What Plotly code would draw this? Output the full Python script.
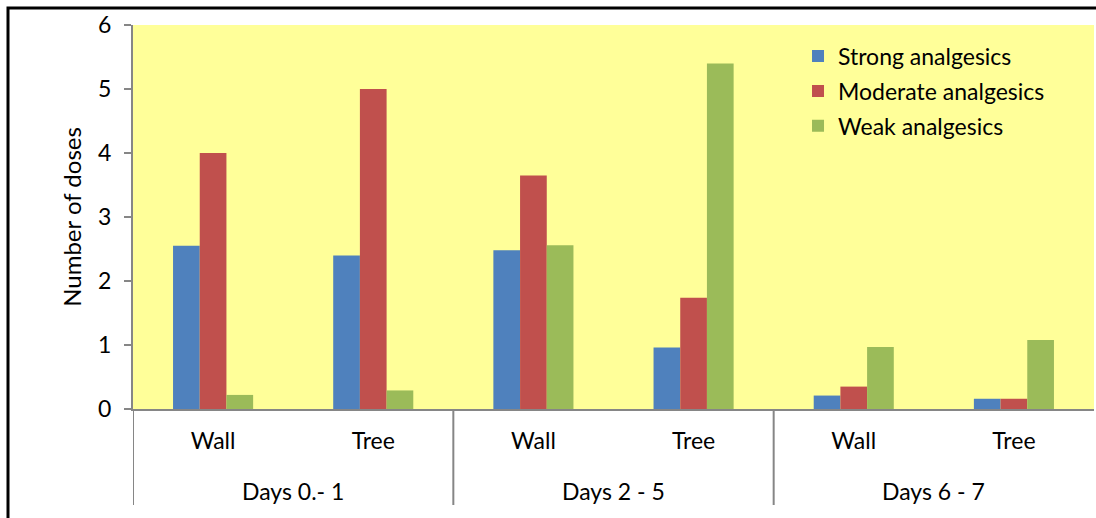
import plotly.graph_objects as go

# Period / location categories
periods = ["Days 0.- 1", "Days 2 - 5", "Days 6 - 7"]
locations = ["Wall", "Tree", "Wall", "Tree", "Wall", "Tree"]
cat_keys = ["Days 0.- 1 | Wall", "Days 0.- 1 | Tree",
            "Days 2 - 5 | Wall", "Days 2 - 5 | Tree",
            "Days 6 - 7 | Wall", "Days 6 - 7 | Tree"]

# Number of doses per analgesic class
strong = [2.55, 2.40, 2.48, 0.96, 0.21, 0.16]
moderate = [4.00, 5.00, 3.65, 1.74, 0.35, 0.16]
weak = [0.22, 0.29, 2.56, 5.40, 0.97, 1.08]

y_ticks = [0, 1, 2, 3, 4, 5, 6]

series = [
    ("Strong analgesics", strong, "#4F81BD"),
    ("Moderate analgesics", moderate, "#C0504D"),
    ("Weak analgesics", weak, "#9BBB59"),
]

FONT = "Lato"
FS = 23
AXIS_GRAY = "#868686"
W, H = 1096, 518
ML, MR, MT, MB = 133, 2, 25, 109

fig = go.Figure()
for name, vals, color in series:
    fig.add_trace(go.Bar(
        name=name,
        x=cat_keys,
        y=vals,
        marker=dict(color=color, line=dict(width=0)),
        legendgroup=name,
    ))

fig.update_layout(
    width=W,
    height=H,
    margin=dict(l=ML, r=MR, t=MT, b=MB),
    barmode="group",
    bargap=0.5,
    bargroupgap=0,
    paper_bgcolor="white",
    plot_bgcolor="#FFFF99",
    font=dict(family=FONT, size=FS, color="black"),
    showlegend=True,
    legend=dict(
        x=0.692, y=0.975, xanchor="left", yanchor="top",
        bgcolor="rgba(0,0,0,0)",
        font=dict(family=FONT, size=FS, color="black"),
        tracegroupgap=2,
        itemwidth=30,
    ),
    xaxis=dict(
        type="category",
        range=[-0.5, 5.5],
        tickvals=cat_keys,
        ticktext=locations,
        showline=True,
        linecolor=AXIS_GRAY,
        linewidth=2,
        ticks="",
        ticklabelstandoff=10,
        showgrid=False,
        tickfont=dict(family=FONT, size=FS, color="black"),
    ),
    yaxis=dict(
        range=[0, 6],
        tickvals=y_ticks,
        ticktext=[str(v) for v in y_ticks],
        showline=True,
        linecolor=AXIS_GRAY,
        linewidth=2,
        ticks="outside",
        ticklen=7,
        tickwidth=2,
        tickcolor=AXIS_GRAY,
        ticklabelstandoff=8,
        showgrid=False,
        zeroline=False,
        tickfont=dict(family=FONT, size=FS, color="black"),
        title=dict(text="Number of doses", font=dict(family=FONT, size=FS + 1, color="black"), standoff=10),
    ),
)

# Period labels under each pair of location labels
ph = H - MT - MB
for i, p in enumerate(periods):
    fig.add_annotation(
        x=2 * i + 0.5, xref="x",
        y=-(491 - (H - MB)) / ph, yref="paper",
        text=p, showarrow=False,
        xanchor="center", yanchor="middle",
        font=dict(family=FONT, size=FS, color="black"),
    )

# Dividers between periods
for xb in [-0.5, 1.5, 3.5]:
    fig.add_shape(
        type="line", xref="x", yref="paper",
        x0=xb, x1=xb, y0=0, y1=-(505 - (H - MB)) / ph,
        line=dict(color=AXIS_GRAY, width=2),
    )

# Outer chart frame (top and left edges visible)
pw = W - ML - MR
x0 = (8 - ML) / pw
y1 = (H - 8 - MB) / ph
fig.add_shape(
    type="rect", xref="paper", yref="paper",
    x0=x0, x1=1.2, y0=-0.5, y1=y1,
    line=dict(color="black", width=3),
    fillcolor="rgba(0,0,0,0)",
    layer="below",
)

fig.write_html("out.html")
